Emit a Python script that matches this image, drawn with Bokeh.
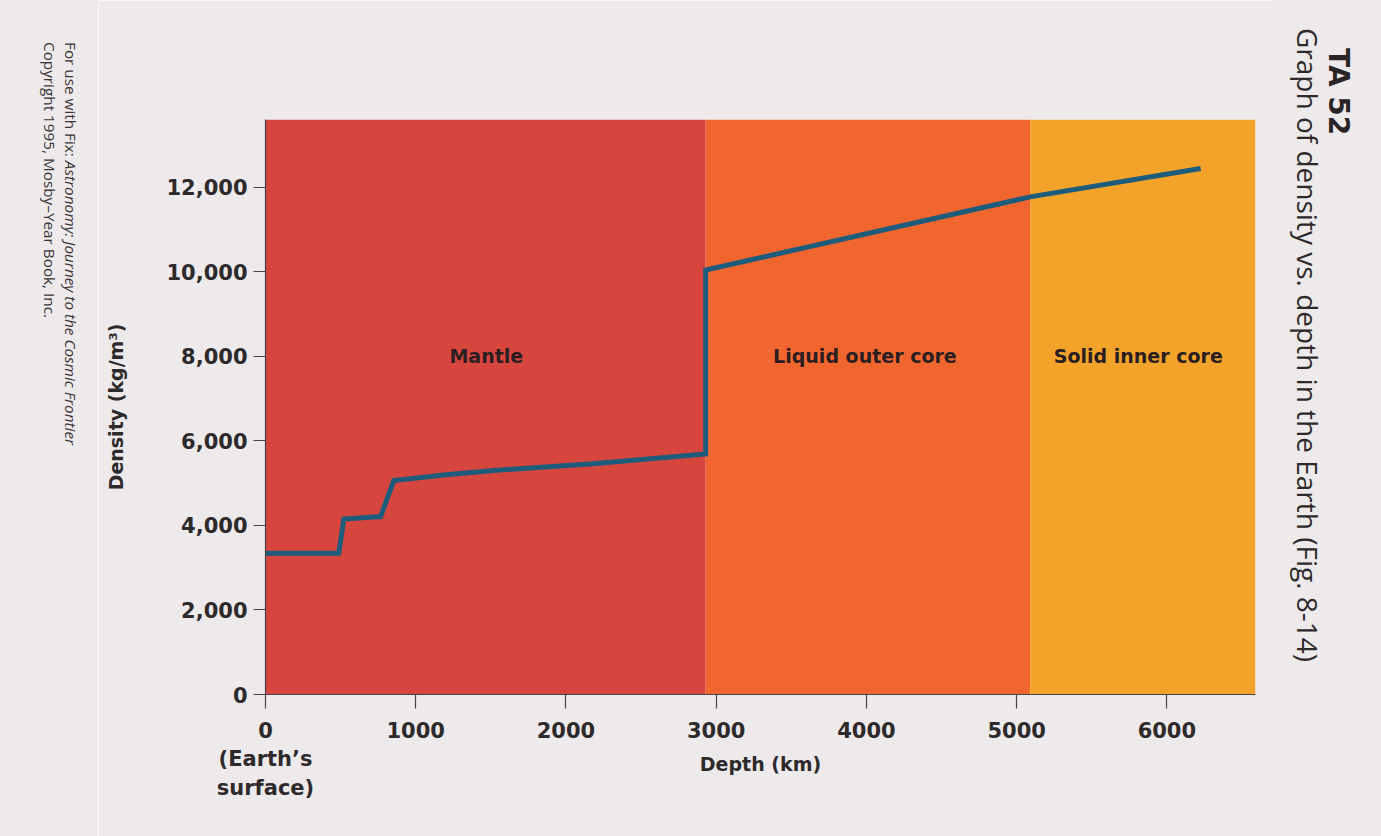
from bokeh.plotting import figure
from bokeh.layouts import row
from bokeh.models import Label, FixedTicker, NumeralTickFormatter, Range1d, Div
from bokeh.embed import file_html
from bokeh.resources import INLINE

# ---- data ----
depth_km = [0, 488, 521, 766, 854, 1200, 1520, 2180, 2930, 2930, 5090, 6225]
density = [3340, 3340, 4150, 4210, 5060, 5200, 5300, 5460, 5690, 10040, 11770, 12440]

region_names = ["Mantle", "Liquid outer core", "Solid inner core"]
region_start = [0, 2930, 5090]
region_end = [2930, 5090, 6590]
region_label_x = [1470, 3990, 5810]
region_label_y = [8000, 8000, 8000]
region_colors = ["#D6463F", "#F1652F", "#F4A32A"]

x_ticks = [0, 1000, 2000, 3000, 4000, 5000, 6000]
y_ticks = [0, 2000, 4000, 6000, 8000, 10000, 12000]
x_tick_overrides = {0: "0\n(Earth\u2019s\nsurface)"}

credit_plain = "For use with Fix: "
credit_italic = "Astronomy: Journey to the Cosmic Frontier"
credit_copy = "Copyright 1995, Mosby\u2013Year Book, Inc."
title_id = "TA 52"
title_text = "Graph of density vs. depth in the Earth (Fig. 8-14)"

BG = "#EEEAEC"
TXT = "#2E2A2C"
BOLD = "DejaVu Sans"
H = 836
LEFT_W, RIGHT_W = 98, 111
MAIN_W = 1381 - LEFT_W - RIGHT_W

# ---- left credits (vertical text, reading top to bottom) ----
left_html = (
    f'<div style="position:relative;width:{LEFT_W}px;height:{H}px;background:{BG};overflow:hidden;">'
    '<div style="position:absolute;left:39px;top:42px;writing-mode:vertical-rl;'
    "font-family:'Open Sans';font-size:15.3px;line-height:21px;color:#3A3436;white-space:nowrap;\">"
    f'{credit_plain}<i>{credit_italic}</i><br>{credit_copy}</div></div>'
)
left = Div(text=left_html, width=LEFT_W, height=H, margin=0)

# ---- main chart ----
p = figure(width=MAIN_W, height=H, output_backend="svg", toolbar_location=None,
           x_range=Range1d(0, 6590), y_range=Range1d(0, 13600),
           min_border_left=265 - LEFT_W, min_border_right=(LEFT_W + MAIN_W) - 1255,
           min_border_top=119, min_border_bottom=H - 694)
p.background_fill_color = BG
p.border_fill_color = BG
p.outline_line_color = None
p.grid.visible = False

p.quad(left=region_start, right=region_end, bottom=0, top=13600,
       fill_color=region_colors, line_color=None)

p.line(depth_km, density, line_width=5, line_color="#1E5C7C", line_join="miter")

for name, lx, ly in zip(region_names, region_label_x, region_label_y):
    p.add_layout(Label(x=lx, y=ly, text=name, text_align="center", text_baseline="middle",
                       text_font=BOLD, text_font_style="bold", text_font_size="19px",
                       text_color="#2A1E20"))

xa = p.xaxis[0]
xa.ticker = FixedTicker(ticks=x_ticks)
xa.major_label_overrides = x_tick_overrides
xa.axis_label = "Depth (km)"
ya = p.yaxis[0]
ya.ticker = FixedTicker(ticks=y_ticks)
ya.formatter = NumeralTickFormatter(format="0,0")
ya.axis_label = "Density (kg/m³)"

for ax in (xa, ya):
    ax.axis_line_color = "#4A4446"
    ax.axis_line_width = 1.2
    ax.major_tick_line_color = "#4A4446"
    ax.major_tick_line_width = 1.2
    ax.major_tick_in = 0
    ax.minor_tick_line_color = None
    ax.major_label_text_font = BOLD
    ax.major_label_text_font_style = "bold"
    ax.major_label_text_font_size = "21px"
    ax.major_label_text_color = TXT
    ax.axis_label_text_font = BOLD
    ax.axis_label_text_font_style = "bold"
    ax.axis_label_text_color = TXT

xa.major_tick_out = 14
xa.major_label_standoff = 10
xa.axis_label_text_font_size = "19px"
xa.axis_label_standoff = -50

ya.major_tick_out = 12
ya.major_label_standoff = 6
ya.axis_label_text_font_size = "19px"
ya.axis_label_standoff = 36

# ---- right title (vertical text, reading top to bottom) ----
right_html = (
    f'<div style="position:relative;width:{RIGHT_W}px;height:{H}px;background:{BG};overflow:hidden;">'
    '<div style="position:absolute;left:54px;top:48px;writing-mode:vertical-rl;'
    "font-family:'DejaVu Sans';font-weight:bold;font-size:28px;line-height:28px;"
    f'color:#2A2426;white-space:nowrap;">{title_id}</div>'
    '<div style="position:absolute;left:23px;top:28px;writing-mode:vertical-rl;'
    "font-family:'Open Sans';font-size:28px;line-height:30px;"
    f'color:#2E2A2C;white-space:nowrap;">{title_text}</div></div>'
)
right = Div(text=right_html, width=RIGHT_W, height=H, margin=0)

layout = row(left, p, right, spacing=0)
open("out.html", "w").write(file_html(layout, INLINE))
